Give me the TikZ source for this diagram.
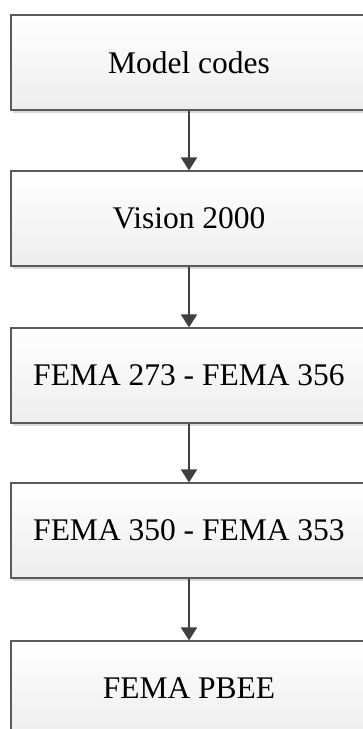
\documentclass[tikz,border=0pt]{standalone}
\usepackage{fontspec}
\setmainfont{Liberation Serif}
\usetikzlibrary{arrows.meta,shadows}
\definecolor{edgegray}{HTML}{5A5A5A}
\definecolor{arrowgray}{HTML}{404040}
\tikzset{
  stagebox/.style={draw=edgegray, line width=1.1pt, top color=white, bottom color=black!7,
    minimum width=356pt, minimum height=95pt, inner sep=0pt, anchor=center,
    font=\fontsize{31.5pt}{36pt}\selectfont,
    drop shadow={shadow xshift=1.5pt, shadow yshift=-2.5pt, fill=black!15, opacity=1}},
  flowarrow/.style={draw=arrowgray, line width=1.9pt, -{Triangle[width=16pt,length=13pt]}}
}
\begin{document}
\begin{tikzpicture}[x=1pt,y=1pt]
\useasboundingbox (0,0) rectangle (363,-729);
\node[stagebox] (b1) at (189,-62.5) {Model codes};
\node[stagebox] (b2) at (189,-218.5) {Vision 2000};
\node[stagebox] (b3) at (189,-375.5) {FEMA 273 - FEMA 356};
\node[stagebox] (b4) at (189,-530.5) {FEMA 350 - FEMA 353};
\node[stagebox] (b5) at (189,-688.5) {FEMA PBEE};
\draw[flowarrow] (b1.south) -- (b2.north);
\draw[flowarrow] (b2.south) -- (b3.north);
\draw[flowarrow] (b3.south) -- (b4.north);
\draw[flowarrow] (b4.south) -- (b5.north);
\end{tikzpicture}
\end{document}
